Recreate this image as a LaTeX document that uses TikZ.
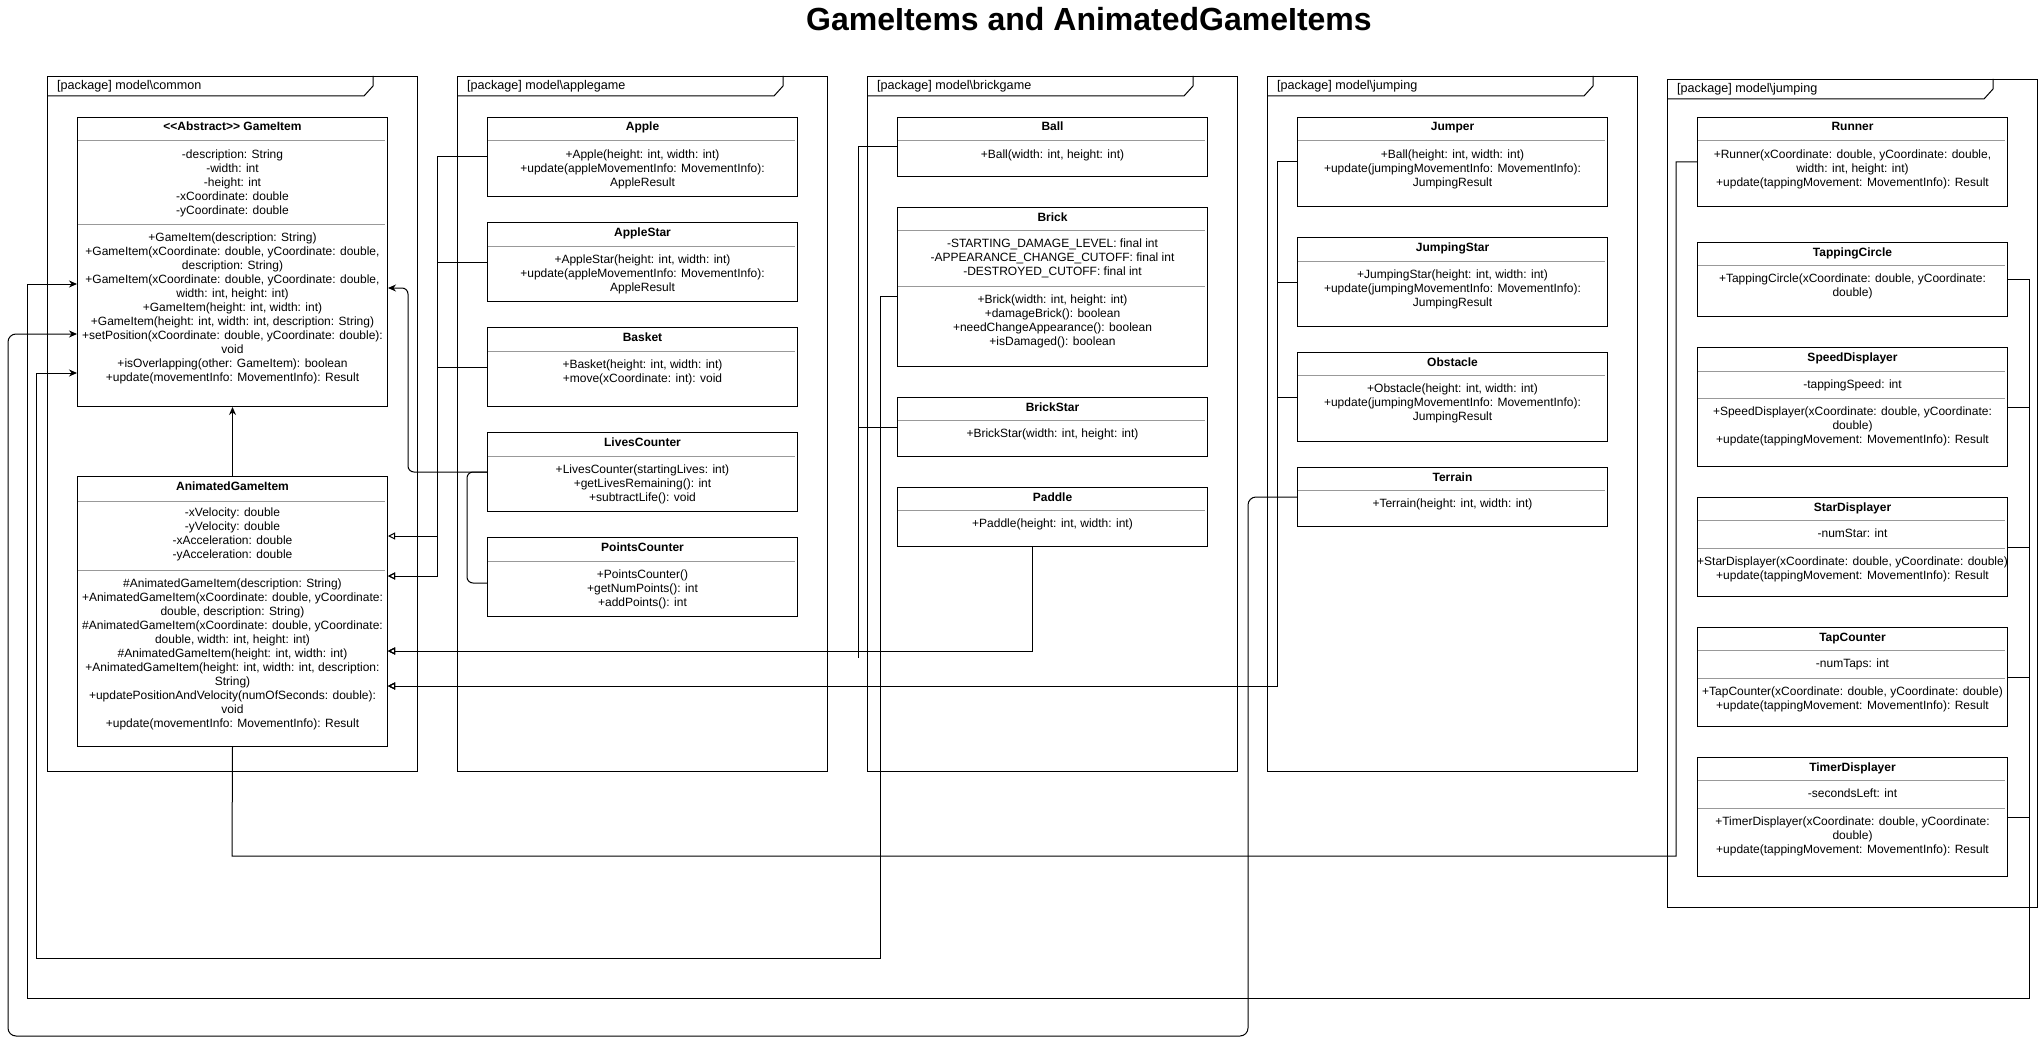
\documentclass[tikz,border=0pt]{standalone}
\usepackage{fontspec}
\setmainfont{Liberation Sans}
\usetikzlibrary{arrows.meta, positioning, calc}

\begin{document}
\begin{tikzpicture}[x=1pt, y=-1pt,
        >=Stealth,
        pkg/.style={draw, line width=1pt, anchor=north west, minimum width=370pt, inner sep=0pt},
        pkglabel/.style={anchor=base west, inner sep=0pt, font=\fontsize{12.6}{14}\selectfont},
        cls/.style={draw, line width=1pt, anchor=north west, minimum width=310pt, inner sep=0pt, fill=white},
        ctitle/.style={anchor=base, inner sep=0pt, font=\fontsize{12}{14}\selectfont\bfseries},
        cbody/.style={anchor=north, inner sep=0pt, align=center, font=\fontsize{12}{14}\selectfont},
        csep/.style={draw=black!40, line width=1pt},
        inh/.style={-{Stealth[length=8pt, width=7pt]}, line width=1pt},
        real/.style={-{Triangle[open, length=7pt, width=7pt]}, line width=1pt},
        assoc/.style={line width=1pt},
      ]
        \useasboundingbox (0,0) rectangle (2038,1046);

        \node[font=\fontsize{32}{38}\selectfont\bfseries, anchor=base] (title) at (1089,31) {GameItems and AnimatedGameItems};

        % packages
        \node[pkg, minimum height=695pt] (common) at (47,76) {};
        \node[pkg, minimum height=695pt] (applepkg) at (457,76) {};
        \node[pkg, minimum height=695pt] (brickpkg) at (867,76) {};
        \node[pkg, minimum height=695pt] (jumppkg) at (1267,76) {};
        \node[pkg, minimum height=828pt] (tappkg) at (1667,79) {};
        \draw[line width=1pt] ($(common.north west)+(0,20)$) -- ++(317,0) -- ++(9,-10) -- ++(0,-10);
        \draw[line width=1pt] ($(applepkg.north west)+(0,20)$) -- ++(317,0) -- ++(9,-10) -- ++(0,-10);
        \draw[line width=1pt] ($(brickpkg.north west)+(0,20)$) -- ++(317,0) -- ++(9,-10) -- ++(0,-10);
        \draw[line width=1pt] ($(jumppkg.north west)+(0,20)$) -- ++(317,0) -- ++(9,-10) -- ++(0,-10);
        \draw[line width=1pt] ($(tappkg.north west)+(0,20)$) -- ++(317,0) -- ++(9,-10) -- ++(0,-10);
        \node[pkglabel] at ($(common.north west)+(10,14)$) {[package] model\textbackslash common};
        \node[pkglabel] at ($(applepkg.north west)+(10,14)$) {[package] model\textbackslash applegame};
        \node[pkglabel] at ($(brickpkg.north west)+(10,14)$) {[package] model\textbackslash brickgame};
        \node[pkglabel] at ($(jumppkg.north west)+(10,14)$) {[package] model\textbackslash jumping};
        \node[pkglabel] at ($(tappkg.north west)+(10,14)$) {[package] model\textbackslash jumping};

        % model\common
        \node[cls, minimum height=289pt] (gameitem) at (77,117) {};
        \node[ctitle] at ($(gameitem.north)+(0,14)$) {<\kern0pt<Abstract>\kern0pt> GameItem};
        \draw[csep] ($(gameitem.north west)+(1,24)$) -- ++(307,0);
        \node[cbody] at ($(gameitem.north)+(0,33)$) {-description: String\\-width: int\\-height: int\\-xCoordinate: double\\-yCoordinate: double};
        \draw[csep] ($(gameitem.north west)+(1,107)$) -- ++(307,0);
        \node[cbody] at ($(gameitem.north)+(0,116)$) {+GameItem(description: String)\\+GameItem(xCoordinate: double, yCoordinate: double,\\description: String)\\+GameItem(xCoordinate: double, yCoordinate: double,\\width: int, height: int)\\+GameItem(height: int, width: int)\\+GameItem(height: int, width: int, description: String)\\+setPosition(xCoordinate: double, yCoordinate: double):\\void\\+isOverlapping(other: GameItem): boolean\\+update(movementInfo: MovementInfo): Result};

        \node[cls, minimum height=270pt] (animated) at (77,476) {};
        \node[ctitle] at ($(animated.north)+(0,14)$) {AnimatedGameItem};
        \draw[csep] ($(animated.north west)+(1,25)$) -- ++(307,0);
        \node[cbody] at ($(animated.north)+(0,32)$) {-xVelocity: double\\-yVelocity: double\\-xAcceleration: double\\-yAcceleration: double};
        \draw[csep] ($(animated.north west)+(1,94)$) -- ++(307,0);
        \node[cbody] at ($(animated.north)+(0,103)$) {\#AnimatedGameItem(description: String)\\+AnimatedGameItem(xCoordinate: double, yCoordinate:\\double, description: String)\\\#AnimatedGameItem(xCoordinate: double, yCoordinate:\\double, width: int, height: int)\\\#AnimatedGameItem(height: int, width: int)\\+AnimatedGameItem(height: int, width: int, description:\\String)\\+updatePositionAndVelocity(numOfSeconds: double):\\void\\+update(movementInfo: MovementInfo): Result};

        % model\applegame
        \node[cls, minimum height=79pt] (apple) at (487,117) {};
        \node[ctitle] at ($(apple.north)+(0,14)$) {Apple};
        \draw[csep] ($(apple.north west)+(1,24)$) -- ++(307,0);
        \node[cbody] at ($(apple.north)+(0,33)$) {+Apple(height: int, width: int)\\+update(appleMovementInfo: MovementInfo):\\AppleResult};

        \node[cls, minimum height=79pt] (applestar) at (487,222) {};
        \node[ctitle] at ($(applestar.north)+(0,14)$) {AppleStar};
        \draw[csep] ($(applestar.north west)+(1,24)$) -- ++(307,0);
        \node[cbody] at ($(applestar.north)+(0,33)$) {+AppleStar(height: int, width: int)\\+update(appleMovementInfo: MovementInfo):\\AppleResult};

        \node[cls, minimum height=79pt] (basket) at (487,327) {};
        \node[ctitle] at ($(basket.north)+(0,14)$) {Basket};
        \draw[csep] ($(basket.north west)+(1,24)$) -- ++(307,0);
        \node[cbody] at ($(basket.north)+(0,33)$) {+Basket(height: int, width: int)\\+move(xCoordinate: int): void};

        \node[cls, minimum height=79pt] (lives) at (487,432) {};
        \node[ctitle] at ($(lives.north)+(0,14)$) {LivesCounter};
        \draw[csep] ($(lives.north west)+(1,24)$) -- ++(307,0);
        \node[cbody] at ($(lives.north)+(0,33)$) {+LivesCounter(startingLives: int)\\+getLivesRemaining(): int\\+subtractLife(): void};

        \node[cls, minimum height=79pt] (points) at (487,537) {};
        \node[ctitle] at ($(points.north)+(0,14)$) {PointsCounter};
        \draw[csep] ($(points.north west)+(1,24)$) -- ++(307,0);
        \node[cbody] at ($(points.north)+(0,33)$) {+PointsCounter()\\+getNumPoints(): int\\+addPoints(): int};

        % model\brickgame
        \node[cls, minimum height=59pt] (ball) at (897,117) {};
        \node[ctitle] at ($(ball.north)+(0,14)$) {Ball};
        \draw[csep] ($(ball.north west)+(1,24)$) -- ++(307,0);
        \node[cbody] at ($(ball.north)+(0,33)$) {+Ball(width: int, height: int)};

        \node[cls, minimum height=159pt] (brick) at (897,207) {};
        \node[ctitle] at ($(brick.north)+(0,14)$) {Brick};
        \draw[csep] ($(brick.north west)+(1,23)$) -- ++(307,0);
        \node[cbody] at ($(brick.north)+(0,32)$) {-STARTING\_DAMAGE\_LEVEL: final int\\-APPEARANCE\_CHANGE\_CUTOFF: final int\\-DESTROYED\_CUTOFF: final int};
        \draw[csep] ($(brick.north west)+(1,79)$) -- ++(307,0);
        \node[cbody] at ($(brick.north)+(0,88)$) {+Brick(width: int, height: int)\\+damageBrick(): boolean\\+needChangeAppearance(): boolean\\+isDamaged(): boolean};

        \node[cls, minimum height=59pt] (brickstar) at (897,397) {};
        \node[ctitle] at ($(brickstar.north)+(0,14)$) {BrickStar};
        \draw[csep] ($(brickstar.north west)+(1,23)$) -- ++(307,0);
        \node[cbody] at ($(brickstar.north)+(0,32)$) {+BrickStar(width: int, height: int)};

        \node[cls, minimum height=59pt] (paddle) at (897,487) {};
        \node[ctitle] at ($(paddle.north)+(0,14)$) {Paddle};
        \draw[csep] ($(paddle.north west)+(1,23)$) -- ++(307,0);
        \node[cbody] at ($(paddle.north)+(0,32)$) {+Paddle(height: int, width: int)};

        % model\jumping
        \node[cls, minimum height=89pt] (jumper) at (1297,117) {};
        \node[ctitle] at ($(jumper.north)+(0,14)$) {Jumper};
        \draw[csep] ($(jumper.north west)+(1,24)$) -- ++(307,0);
        \node[cbody] at ($(jumper.north)+(0,33)$) {+Ball(height: int, width: int)\\+update(jumpingMovementInfo: MovementInfo):\\JumpingResult};

        \node[cls, minimum height=89pt] (jumpstar) at (1297,237) {};
        \node[ctitle] at ($(jumpstar.north)+(0,14)$) {JumpingStar};
        \draw[csep] ($(jumpstar.north west)+(1,24)$) -- ++(307,0);
        \node[cbody] at ($(jumpstar.north)+(0,33)$) {+JumpingStar(height: int, width: int)\\+update(jumpingMovementInfo: MovementInfo):\\JumpingResult};

        \node[cls, minimum height=89pt] (obstacle) at (1297,352) {};
        \node[ctitle] at ($(obstacle.north)+(0,14)$) {Obstacle};
        \draw[csep] ($(obstacle.north west)+(1,23)$) -- ++(307,0);
        \node[cbody] at ($(obstacle.north)+(0,32)$) {+Obstacle(height: int, width: int)\\+update(jumpingMovementInfo: MovementInfo):\\JumpingResult};

        \node[cls, minimum height=59pt] (terrain) at (1297,467) {};
        \node[ctitle] at ($(terrain.north)+(0,14)$) {Terrain};
        \draw[csep] ($(terrain.north west)+(1,23)$) -- ++(307,0);
        \node[cbody] at ($(terrain.north)+(0,32)$) {+Terrain(height: int, width: int)};

        % model\jumping (tapping)
        \node[cls, minimum height=89pt] (runner) at (1697,117) {};
        \node[ctitle] at ($(runner.north)+(0,14)$) {Runner};
        \draw[csep] ($(runner.north west)+(1,24)$) -- ++(307,0);
        \node[cbody] at ($(runner.north)+(0,33)$) {+Runner(xCoordinate: double, yCoordinate: double,\\width: int, height: int)\\+update(tappingMovement: MovementInfo): Result};

        \node[cls, minimum height=74pt] (tapcircle) at (1697,242) {};
        \node[ctitle] at ($(tapcircle.north)+(0,14)$) {TappingCircle};
        \draw[csep] ($(tapcircle.north west)+(1,23)$) -- ++(307,0);
        \node[cbody] at ($(tapcircle.north)+(0,32)$) {+TappingCircle(xCoordinate: double, yCoordinate:\\double)};

        \node[cls, minimum height=119pt] (speed) at (1697,347) {};
        \node[ctitle] at ($(speed.north)+(0,14)$) {SpeedDisplayer};
        \draw[csep] ($(speed.north west)+(1,24)$) -- ++(307,0);
        \node[cbody] at ($(speed.north)+(0,33)$) {-tappingSpeed: int};
        \draw[csep] ($(speed.north west)+(1,51)$) -- ++(307,0);
        \node[cbody] at ($(speed.north)+(0,60)$) {+SpeedDisplayer(xCoordinate: double, yCoordinate:\\double)\\+update(tappingMovement: MovementInfo): Result};

        \node[cls, minimum height=99pt] (stardisp) at (1697,497) {};
        \node[ctitle] at ($(stardisp.north)+(0,14)$) {StarDisplayer};
        \draw[csep] ($(stardisp.north west)+(1,23)$) -- ++(307,0);
        \node[cbody] at ($(stardisp.north)+(0,32)$) {-numStar: int};
        \draw[csep] ($(stardisp.north west)+(1,51)$) -- ++(307,0);
        \node[cbody] at ($(stardisp.north)+(0,60)$) {+StarDisplayer(xCoordinate: double, yCoordinate: double)\\+update(tappingMovement: MovementInfo): Result};

        \node[cls, minimum height=99pt] (tapcounter) at (1697,627) {};
        \node[ctitle] at ($(tapcounter.north)+(0,14)$) {TapCounter};
        \draw[csep] ($(tapcounter.north west)+(1,23)$) -- ++(307,0);
        \node[cbody] at ($(tapcounter.north)+(0,32)$) {-numTaps: int};
        \draw[csep] ($(tapcounter.north west)+(1,51)$) -- ++(307,0);
        \node[cbody] at ($(tapcounter.north)+(0,60)$) {+TapCounter(xCoordinate: double, yCoordinate: double)\\+update(tappingMovement: MovementInfo): Result};

        \node[cls, minimum height=119pt] (timer) at (1697,757) {};
        \node[ctitle] at ($(timer.north)+(0,14)$) {TimerDisplayer};
        \draw[csep] ($(timer.north west)+(1,23)$) -- ++(307,0);
        \node[cbody] at ($(timer.north)+(0,32)$) {-secondsLeft: int};
        \draw[csep] ($(timer.north west)+(1,51)$) -- ++(307,0);
        \node[cbody] at ($(timer.north)+(0,60)$) {+TimerDisplayer(xCoordinate: double, yCoordinate:\\double)\\+update(tappingMovement: MovementInfo): Result};

        % loop corners
        \coordinate (brickloop) at (36,958);
        \coordinate (terrainloop) at (8,1036);
        \coordinate (taploop) at (27,998);
        \coordinate (runnerloop) at (232,856);

        % connectors to GameItem
        \draw[inh] (animated) -- (gameitem);
        \draw[inh, rounded corners=6pt] (lives.west) -- ++(-79,0) |- ($(gameitem.north east)+(0,171)$);
        \draw[assoc, rounded corners=6pt] ($(points.north west)+(0,46)$) -- ++(-20,0) |- (lives.west);
        \draw[inh] ($(brick.north west)+(0,89)$) -- ++(-17,0) |- (brickloop) |- ($(gameitem.north west)+(0,256)$);
        \draw[inh, rounded corners=8pt] (terrain.west) -- ++(-49,0) |- (terrainloop) |- ($(gameitem.north west)+(0,217)$);
        \draw[inh] (tapcircle.east) -- ++(21,0) |- (taploop) |- ($(gameitem.north west)+(0,167)$);
        \draw[assoc] (speed.east) -- ++(21,0);
        \draw[assoc] (stardisp.east) -- ++(21,0);
        \draw[assoc] (tapcounter.east) -- ++(21,0);
        \draw[assoc] (timer.east) -- ++(21,0);

        % connectors to AnimatedGameItem
        \draw[real] (apple.west) -- ++(-50,0) |- ($(animated.north east)+(0,60)$);
        \draw[real] (applestar.west) -- ++(-50,0) |- ($(animated.north east)+(0,100)$);
        \draw[real] (basket.west) -- ++(-50,0) |- ($(animated.north east)+(0,100)$);
        \draw[real] (ball.west) -- ++(-39,0) |- ($(animated.north east)+(0,175)$);
        \draw[real] (brickstar.west) -- ++(-39,0) |- ($(animated.north east)+(0,175)$);
        \draw[assoc] ($(ball.west)+(-39,0)$) -- ++(0,511);
        \draw[real] ($(paddle.south)+(-20,0)$) |- ($(animated.north east)+(0,175)$);
        \draw[real] (jumper.west) -- ++(-20,0) |- ($(animated.north east)+(0,210)$);
        \draw[real] (jumpstar.west) -- ++(-20,0) |- ($(animated.north east)+(0,210)$);
        \draw[real] (obstacle.west) -- ++(-20,0) |- ($(animated.north east)+(0,210)$);
        \draw[assoc] (runner.west) -- ++(-21,0) |- (runnerloop) -- (animated.south);
      \end{tikzpicture}
\end{document}
